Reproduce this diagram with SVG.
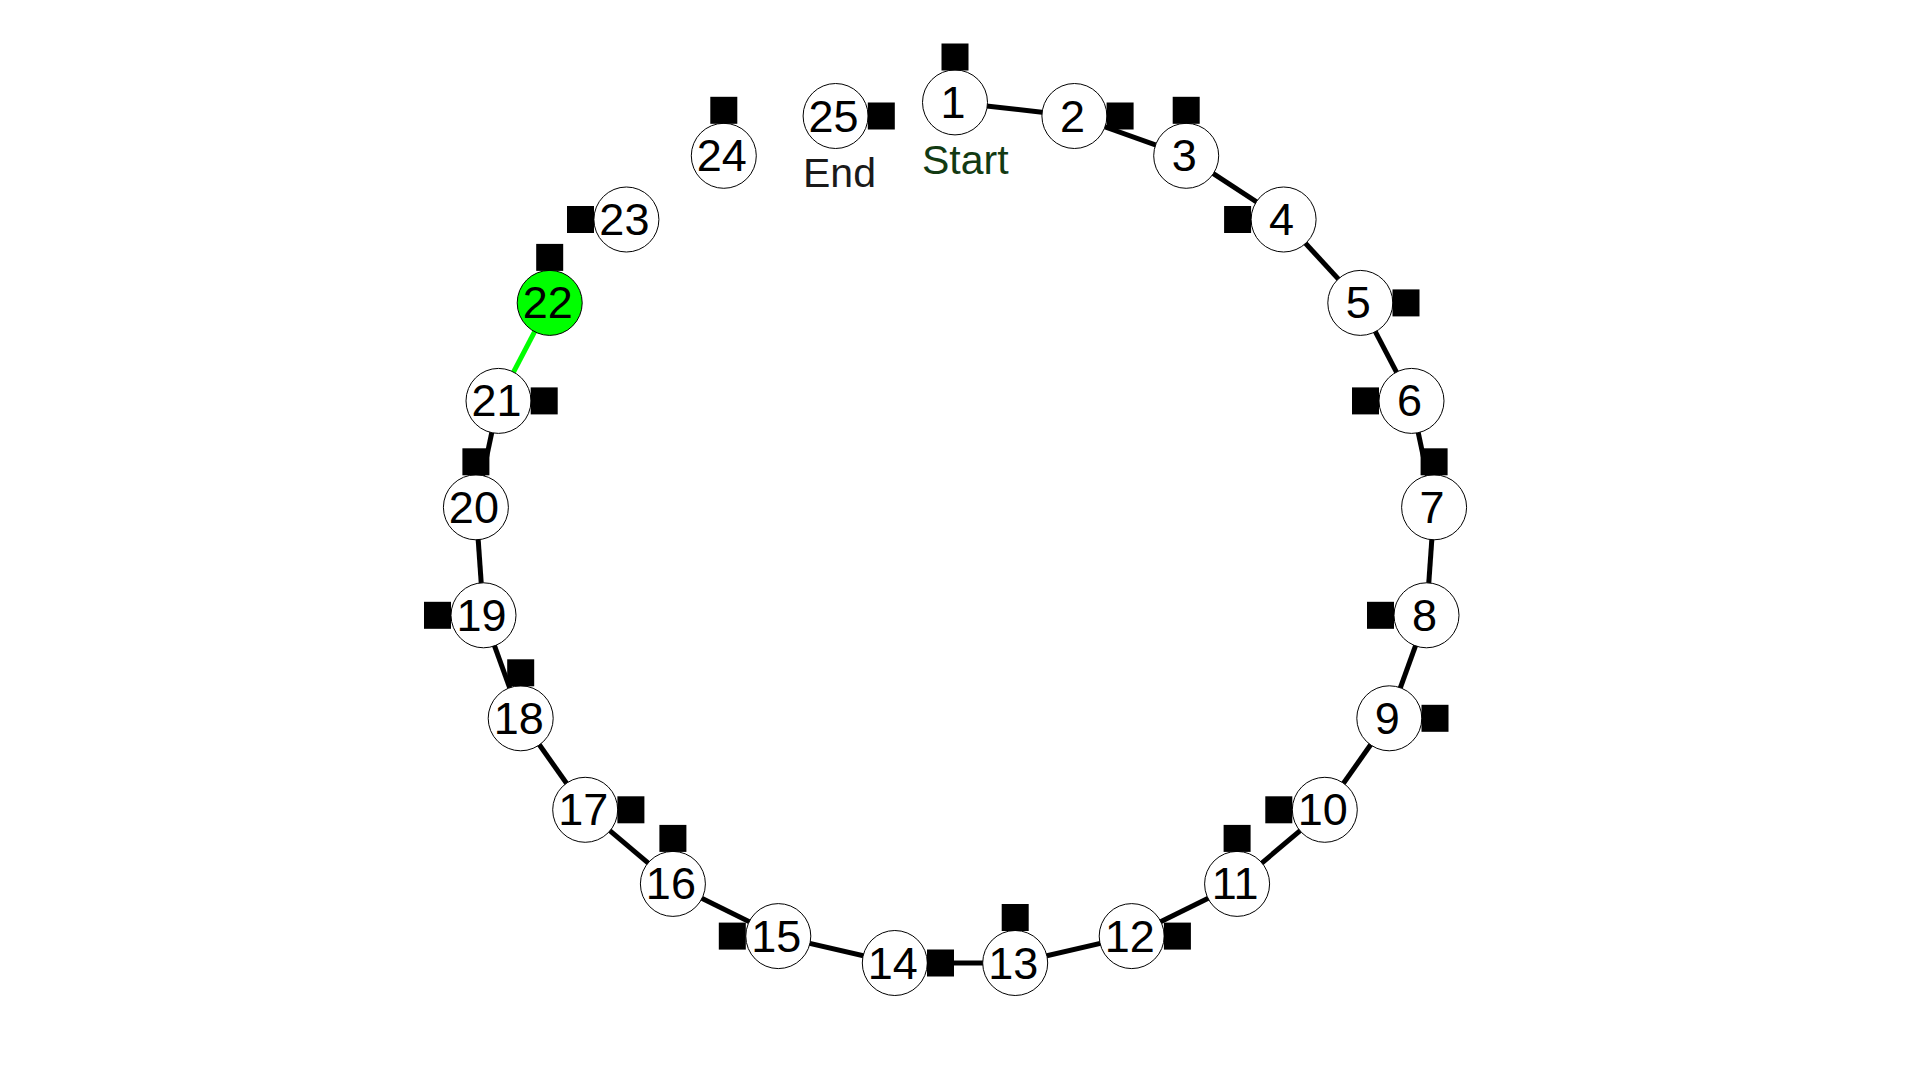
<svg xmlns="http://www.w3.org/2000/svg" width="1920" height="1080" viewBox="0 0 1920 1080">
<style>
.bg{fill:#ffffff}
.node circle{fill:#ffffff;stroke:#000000;stroke-width:1}
.node.active circle{fill:#00ff00}
.node text{font-family:"Liberation Sans",Arial,sans-serif;font-size:45px;fill:#000000;text-anchor:middle}
.sq{fill:#000000}
.edge{stroke:#000000;stroke-width:5;fill:none}
.edge.active{stroke:#00ff00}
.cap{font-family:"Liberation Sans",Arial,sans-serif;font-size:41px}
</style>
<rect class="bg" x="0" y="0" width="1920" height="1080"/>
<g id="connectors">
<line class="edge" x1="955" y1="102.4" x2="1074.4" y2="116"/>
<line class="edge" x1="1074.4" y1="116" x2="1186.2" y2="155.8"/>
<line class="edge" x1="1186.2" y1="155.8" x2="1283.6" y2="219.5"/>
<line class="edge" x1="1283.6" y1="219.5" x2="1360.3" y2="302.9"/>
<line class="edge" x1="1360.3" y1="302.9" x2="1411.5" y2="400.9"/>
<line class="edge" x1="1411.5" y1="400.9" x2="1434.1" y2="507.3"/>
<line class="edge" x1="1434.1" y1="507.3" x2="1426.5" y2="615.3"/>
<line class="edge" x1="1426.5" y1="615.3" x2="1389.3" y2="718.3"/>
<line class="edge" x1="1389.3" y1="718.3" x2="1324.8" y2="809.8"/>
<line class="edge" x1="1324.8" y1="809.8" x2="1237.1" y2="883.9"/>
<line class="edge" x1="1237.1" y1="883.9" x2="1131.7" y2="936.1"/>
<line class="edge" x1="1131.7" y1="936.1" x2="1015.2" y2="963"/>
<line class="edge" x1="1015.2" y1="963" x2="894.8" y2="963"/>
<line class="edge" x1="894.8" y1="963" x2="778.3" y2="936.1"/>
<line class="edge" x1="778.3" y1="936.1" x2="672.9" y2="883.9"/>
<line class="edge" x1="672.9" y1="883.9" x2="585.2" y2="809.8"/>
<line class="edge" x1="585.2" y1="809.8" x2="520.7" y2="718.3"/>
<line class="edge" x1="520.7" y1="718.3" x2="483.5" y2="615.3"/>
<line class="edge" x1="483.5" y1="615.3" x2="475.9" y2="507.3"/>
<line class="edge" x1="475.9" y1="507.3" x2="498.5" y2="400.9"/>
<line class="edge active" x1="498.5" y1="400.9" x2="549.7" y2="302.9"/>
</g>
<g id="n1" class="node"><circle cx="955" cy="102.4" r="32.5"/><text x="953" y="118">1</text><rect class="sq" x="941.5" y="43.5" width="27" height="27"/></g>
<g id="n2" class="node"><circle cx="1074.4" cy="116" r="32.5"/><text x="1072.4" y="131.5">2</text><rect class="sq" x="1106.6" y="102.5" width="27" height="27"/></g>
<g id="n3" class="node"><circle cx="1186.2" cy="155.8" r="32.5"/><text x="1184.2" y="171.3">3</text><rect class="sq" x="1172.7" y="96.8" width="27" height="27"/></g>
<g id="n4" class="node"><circle cx="1283.6" cy="219.5" r="32.5"/><text x="1281.6" y="235">4</text><rect class="sq" x="1224.1" y="206" width="27" height="27"/></g>
<g id="n5" class="node"><circle cx="1360.3" cy="302.9" r="32.5"/><text x="1358.3" y="318.4">5</text><rect class="sq" x="1392.5" y="289.4" width="27" height="27"/></g>
<g id="n6" class="node"><circle cx="1411.5" cy="400.9" r="32.5"/><text x="1409.5" y="416.4">6</text><rect class="sq" x="1352" y="387.4" width="27" height="27"/></g>
<g id="n7" class="node"><circle cx="1434.1" cy="507.3" r="32.5"/><text x="1432.1" y="522.8">7</text><rect class="sq" x="1420.6" y="448.3" width="27" height="27"/></g>
<g id="n8" class="node"><circle cx="1426.5" cy="615.3" r="32.5"/><text x="1424.5" y="630.8">8</text><rect class="sq" x="1367" y="601.8" width="27" height="27"/></g>
<g id="n9" class="node"><circle cx="1389.3" cy="718.3" r="32.5"/><text x="1387.3" y="733.8">9</text><rect class="sq" x="1421.5" y="704.8" width="27" height="27"/></g>
<g id="n10" class="node"><circle cx="1324.8" cy="809.8" r="32.5"/><text x="1322.8" y="825.3">10</text><rect class="sq" x="1265.3" y="796.3" width="27" height="27"/></g>
<g id="n11" class="node"><circle cx="1237.1" cy="883.9" r="32.5"/><text x="1235.1" y="899.4">11</text><rect class="sq" x="1223.6" y="824.9" width="27" height="27"/></g>
<g id="n12" class="node"><circle cx="1131.7" cy="936.1" r="32.5"/><text x="1129.7" y="951.6">12</text><rect class="sq" x="1163.9" y="922.6" width="27" height="27"/></g>
<g id="n13" class="node"><circle cx="1015.2" cy="963" r="32.5"/><text x="1013.2" y="978.5">13</text><rect class="sq" x="1001.7" y="904" width="27" height="27"/></g>
<g id="n14" class="node"><circle cx="894.8" cy="963" r="32.5"/><text x="892.8" y="978.5">14</text><rect class="sq" x="927" y="949.5" width="27" height="27"/></g>
<g id="n15" class="node"><circle cx="778.3" cy="936.1" r="32.5"/><text x="776.3" y="951.6">15</text><rect class="sq" x="718.8" y="922.6" width="27" height="27"/></g>
<g id="n16" class="node"><circle cx="672.9" cy="883.9" r="32.5"/><text x="670.9" y="899.4">16</text><rect class="sq" x="659.4" y="824.9" width="27" height="27"/></g>
<g id="n17" class="node"><circle cx="585.2" cy="809.8" r="32.5"/><text x="583.2" y="825.3">17</text><rect class="sq" x="617.4" y="796.3" width="27" height="27"/></g>
<g id="n18" class="node"><circle cx="520.7" cy="718.3" r="32.5"/><text x="518.7" y="733.8">18</text><rect class="sq" x="507.2" y="659.3" width="27" height="27"/></g>
<g id="n19" class="node"><circle cx="483.5" cy="615.3" r="32.5"/><text x="481.5" y="630.8">19</text><rect class="sq" x="424" y="601.8" width="27" height="27"/></g>
<g id="n20" class="node"><circle cx="475.9" cy="507.3" r="32.5"/><text x="473.9" y="522.8">20</text><rect class="sq" x="462.4" y="448.3" width="27" height="27"/></g>
<g id="n21" class="node"><circle cx="498.5" cy="400.9" r="32.5"/><text x="496.5" y="416.4">21</text><rect class="sq" x="530.7" y="387.4" width="27" height="27"/></g>
<g id="n22" class="node active"><circle cx="549.7" cy="302.9" r="32.5"/><text x="547.7" y="318.4">22</text><rect class="sq" x="536.2" y="243.9" width="27" height="27"/></g>
<g id="n23" class="node"><circle cx="626.4" cy="219.5" r="32.5"/><text x="624.4" y="235">23</text><rect class="sq" x="567" y="206" width="27" height="27"/></g>
<g id="n24" class="node"><circle cx="723.8" cy="155.8" r="32.5"/><text x="721.8" y="171.3">24</text><rect class="sq" x="710.3" y="96.8" width="27" height="27"/></g>
<g id="n25" class="node"><circle cx="835.6" cy="116" r="32.5"/><text x="833.6" y="131.5">25</text><rect class="sq" x="867.8" y="102.5" width="27" height="27"/></g>
<g id="labels">
<text class="cap" x="922" y="174" fill="#123a12">Start</text>
<text class="cap" x="803" y="187" fill="#1a1a1a">End</text>
</g>
</svg>
